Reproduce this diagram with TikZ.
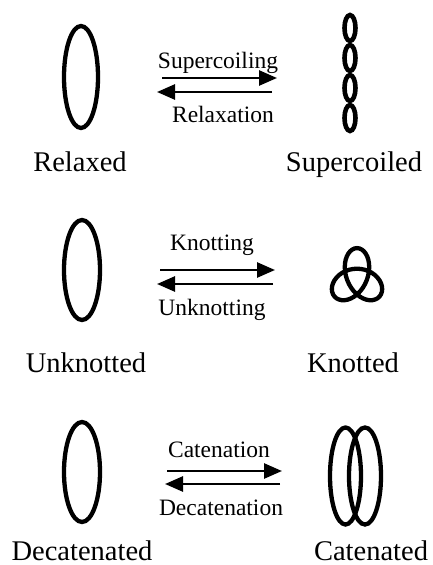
\documentclass[tikz,border=0pt]{standalone}
\usepackage{fontspec}
\setmainfont{Liberation Serif}
\usetikzlibrary{arrows.meta,shapes.geometric}
\begin{document}
\begin{tikzpicture}[x=1pt,y=-1pt,
  loopshape/.style={draw, ellipse, line width=4.3pt, inner sep=0pt},
  fwd/.style={-{Triangle[length=18pt,width=15pt]}, line width=2.6pt},
  biglabel/.style={font=\fontsize{28.5}{30}\selectfont, anchor=base, inner sep=0pt},
  smalllabel/.style={font=\fontsize{23.5}{25}\selectfont, anchor=base, inner sep=0pt}]
\fill[white] (0,0) rectangle (432,565);
\useasboundingbox (0,0) rectangle (432,565);

% ---------- Row 1 ----------
\node[loopshape, minimum width=34pt, minimum height=102pt] (relaxed) at (81,77) {};
\foreach \i/\yy in {1/28,2/58,3/88,4/118}
  \node[loopshape, line width=4.6pt, minimum width=11pt, minimum height=26pt] (sc\i) at (350,\yy) {};
\coordinate (a1s) at (162,78);  \coordinate (a1e) at (277,78);
\coordinate (b1s) at (272,92);  \coordinate (b1e) at (157,92);
\draw[fwd] (a1s) -- (a1e);
\draw[fwd] (b1s) -- (b1e);
\node[smalllabel] (l1a) at (218,68.5) {Supercoiling};
\node[smalllabel] (l1b) at (223,122.5) {Relaxation};
\node[biglabel] (n1a) at (80,171.5) {Relaxed};
\node[biglabel] (n1b) at (354,171.5) {Supercoiled};

% ---------- Row 2 ----------
\node[loopshape, minimum width=36pt, minimum height=100pt] (unknot) at (82,270) {};
\coordinate (knot) at (357,279);
\draw[line width=4.3pt, line join=round]
  plot[smooth cycle, domain=0:355, samples=72, variable=\t]
  ({357+9.2*(sin(\t)+2*sin(2*\t))}, {279+10.3*(cos(\t)-2*cos(2*\t))});
\coordinate (a2s) at (160,270);  \coordinate (a2e) at (275,270);
\coordinate (b2s) at (273,284);  \coordinate (b2e) at (157,284);
\draw[fwd] (a2s) -- (a2e);
\draw[fwd] (b2s) -- (b2e);
\node[smalllabel] (l2a) at (212,250) {Knotting};
\node[smalllabel] (l2b) at (212,315) {Unknotting};
\node[biglabel] (n2a) at (86,372) {Unknotted};
\node[biglabel] (n2b) at (353,372) {Knotted};

% ---------- Row 3 ----------
\node[loopshape, minimum width=36pt, minimum height=100pt] (decat) at (82,472) {};
\node[loopshape, minimum width=31pt, minimum height=97pt] (catl) at (345.5,476) {};
\node[loopshape, minimum width=32pt, minimum height=97pt] (catr) at (365,476) {};
\coordinate (a3s) at (167,471);  \coordinate (a3e) at (282,471);
\coordinate (b3s) at (280,484);  \coordinate (b3e) at (165,484);
\draw[fwd] (a3s) -- (a3e);
\draw[fwd] (b3s) -- (b3e);
\node[smalllabel] (l3a) at (219,457) {Catenation};
\node[smalllabel] (l3b) at (221,515) {Decatenation};
\node[biglabel] (n3a) at (82,560) {Decatenated};
\node[biglabel] (n3b) at (371,560) {Catenated};
\end{tikzpicture}
\end{document}
